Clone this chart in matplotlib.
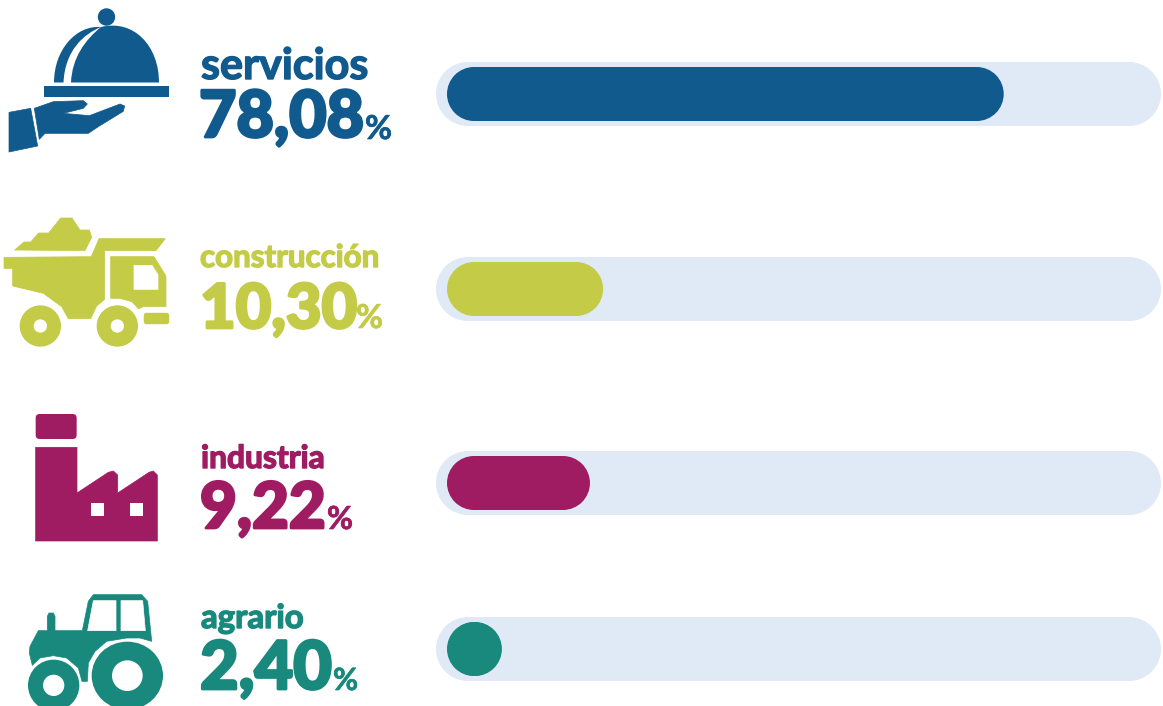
import matplotlib
matplotlib.use("Agg")
import matplotlib.pyplot as plt
import matplotlib.patheffects as pe
from matplotlib.patches import Circle, Ellipse, FancyBboxPatch, PathPatch, Polygon, Rectangle
from matplotlib.path import Path

# ------------------ data ------------------
categories = ["servicios", "construcción", "industria", "agrario"]
value_labels = ["78,08", "10,30", "9,22", "2,40"]
# length of the drawn bars, the picture does not scale them with the labels
bar_lengths = [78.08, 21.9, 20.05, 7.7]
colors = ["#105A8E", "#C3CB47", "#A01C62", "#18897C"]
track_color = "#DFEAF6"

# ------------------ layout, pixels of the 1163x706 image ------------------
W, H = 1163, 706
bar_left = 447
px_per_unit = 7.13
track_left, track_right = 436, 1161
row_tops = [62, 257, 451, 617]
# x, baseline, right edge
label_pos = [(201, 79, 368), (200, 267, 379), (201, 468, 324), (201, 628, 303)]
value_pos = [(199, 137, 364), (200, 328, 357), (200, 528, 326), (200, 689, 332)]
pct_pos = [(365, 139, 392), (356, 328, 383), (327, 529, 353), (333, 690, 358)]

plt.rcParams["font.family"] = ["Lato", "DejaVu Sans"]

fig = plt.figure(figsize=(W / 100, H / 100), dpi=100)
ax = fig.add_axes([0, 0, 1, 1])
ax.set_xlim(0, W)
ax.set_ylim(H, 0)
ax.axis("off")

# second axes for the bars, x is in percent
bar_ax = fig.add_axes([0, 0, 1, 1])
bar_ax.set_xlim(-bar_left / px_per_unit, (W - bar_left) / px_per_unit)
bar_ax.set_ylim(H, 0)
bar_ax.axis("off")
bar_ax.patch.set_alpha(0)


def pill(a, x0, x1, top, height, color):
    # rectangle with two real half circles, boxstyle round gives a squircle
    rx = height / 2 / px_per_unit
    a.add_patch(Rectangle((x0 + rx, top), x1 - x0 - 2 * rx, height, fc=color, ec="none"))
    for cx in [x0 + rx, x1 - rx]:
        a.add_patch(Ellipse((cx, top + height / 2), 2 * rx, height, fc=color, ec="none"))


for i in range(4):
    x0 = (track_left - bar_left) / px_per_unit
    x1 = (track_right - bar_left) / px_per_unit
    pill(bar_ax, x0, x1, row_tops[i], 64, track_color)
    pill(bar_ax, 0, bar_lengths[i], row_tops[i] + 5, 54, colors[i])


# ------------------ text, size is fitted to the width in the picture ------------------
def fit_text(s, x, base, right, color, weight, stroke):
    t = ax.text(x, base, s, color=color, fontweight=weight, fontsize=30, va="baseline", ha="left")
    r = fig.canvas.get_renderer()
    for _ in range(3):
        w = t.get_window_extent(r).width
        t.set_fontsize(t.get_fontsize() * (right - x) / w)
    t.set_path_effects([pe.withStroke(linewidth=stroke, foreground=color)])
    return t


for i in range(4):
    fit_text(categories[i], *label_pos[i], colors[i], "bold", 1.0)
    fit_text(value_labels[i], *value_pos[i], colors[i], "black", 2.0)
    fit_text("%", *pct_pos[i], colors[i], "bold", 0.5)


# ------------------ icons ------------------
def zoomed(points, yoff=0):
    return [(px / 3, py / 3 + yoff) for px, py in points]


def poly(points, color, yoff=0):
    ax.add_patch(Polygon(zoomed(points, yoff), closed=True, fc=color, ec=color, lw=0.5, joinstyle="round"))


# cloche and hand
c = colors[0]
ax.add_patch(Circle((106.5, 17), 8.7, fc=c, ec="none"))
C4 = Path.CURVE4
ax.add_patch(PathPatch(Path([(71, 82.5), (72, 58), (85, 40), (101, 27), (134, 19), (159, 46), (159, 82.5), (71, 82.5)],
                            [Path.MOVETO, C4, C4, C4, C4, C4, C4, Path.CLOSEPOLY]), fc=c, ec="none"))
ax.add_patch(PathPatch(Path([(54, 82.5), (54, 50), (76, 25), (101, 27), (84, 34), (65, 50), (63.5, 82.5), (54, 82.5)],
                            [Path.MOVETO, C4, C4, C4, C4, C4, C4, Path.CLOSEPOLY]), fc=c, ec="none"))
ax.add_patch(Rectangle((44, 86), 125, 11, fc=c, ec="none"))
poly([(27, 337), (92, 325), (113, 438), (27, 456)], c)
poly([(103, 325), (160, 305), (250, 302), (262, 312), (250, 325), (190, 340), (268, 347), (360, 312),
      (374, 318), (370, 334), (295, 380), (265, 400), (135, 400), (118, 418)], c)

# truck
c = colors[1]
poly([(44, 750), (72, 726), (92, 726), (116, 699), (146, 699), (182, 654), (216, 654), (240, 690),
      (268, 690), (275, 712), (255, 752)], c)
poly([(12, 772), (274, 770), (297, 716), (496, 716), (468, 752), (314, 752), (314, 898), (290, 918),
      (272, 956), (205, 956), (185, 920), (130, 880), (38, 858), (38, 805), (12, 805)], c)
poly([(332, 770), (462, 770), (498, 828), (498, 920), (430, 920), (416, 926), (395, 905), (360, 895), (332, 895)], c)
poly([(402, 796), (456, 796), (474, 824), (474, 868), (402, 868)], "white")
for cx in [121, 352]:
    ax.add_patch(Circle((cx / 3, 978 / 3), 62 / 3, fc=c, ec="none"))
    ax.add_patch(Circle((cx / 3, 978 / 3), 20 / 3, fc="white", ec="none"))
ax.add_patch(FancyBboxPatch((144.5, 313.5), 24, 10, boxstyle="round,pad=0,rounding_size=2", fc=c, ec=c, lw=1))

# factory
c = colors[2]
ax.add_patch(FancyBboxPatch((107 / 3 + 1, 353 + 183 / 3 + 1), 39, 23, boxstyle="round,pad=1,rounding_size=4", fc=c, ec="none"))
poly([(107, 283), (231, 283), (231, 420), (325, 358), (340, 354), (353, 366), (353, 420), (447, 358),
      (460, 354), (472, 366), (472, 564), (107, 564)], c, 353)
for wx in [273, 390]:
    ax.add_patch(Rectangle((wx / 3, 353 + 449 / 3), 40 / 3, 40 / 3, fc="white", ec="none"))

# tractor
c = colors[3]
poly([(90, 880), (115, 833), (142, 833), (142, 790), (147, 780), (160, 780), (165, 790), (165, 833), (247, 833), (265, 745),
      (280, 725), (425, 725), (443, 745), (455, 865), (420, 855), (380, 855), (320, 865), (285, 895), (265, 930),
      (262, 985), (246, 985), (235, 945), (200, 915), (160, 908), (120, 915), (97, 937), (88, 900)], c, 353)
poly([(263, 833), (280, 743), (348, 743), (348, 833)], "white", 353)
poly([(363, 743), (428, 743), (436, 833), (363, 833)], "white", 353)
ax.add_patch(Ellipse((382 / 3, 353 + 968 / 3), 214 / 3, 204 / 3, fc=c, ec="none"))
ax.add_patch(Circle((382 / 3, 353 + 968 / 3), 46 / 3, fc="white", ec="none"))
ax.add_patch(Circle((161 / 3, 353 + 997 / 3), 77 / 3, fc=c, ec="none"))
ax.add_patch(Circle((161 / 3, 353 + 997 / 3), 32 / 3, fc="white", ec="none"))

fig.savefig("out.png", dpi=100, facecolor="white")
